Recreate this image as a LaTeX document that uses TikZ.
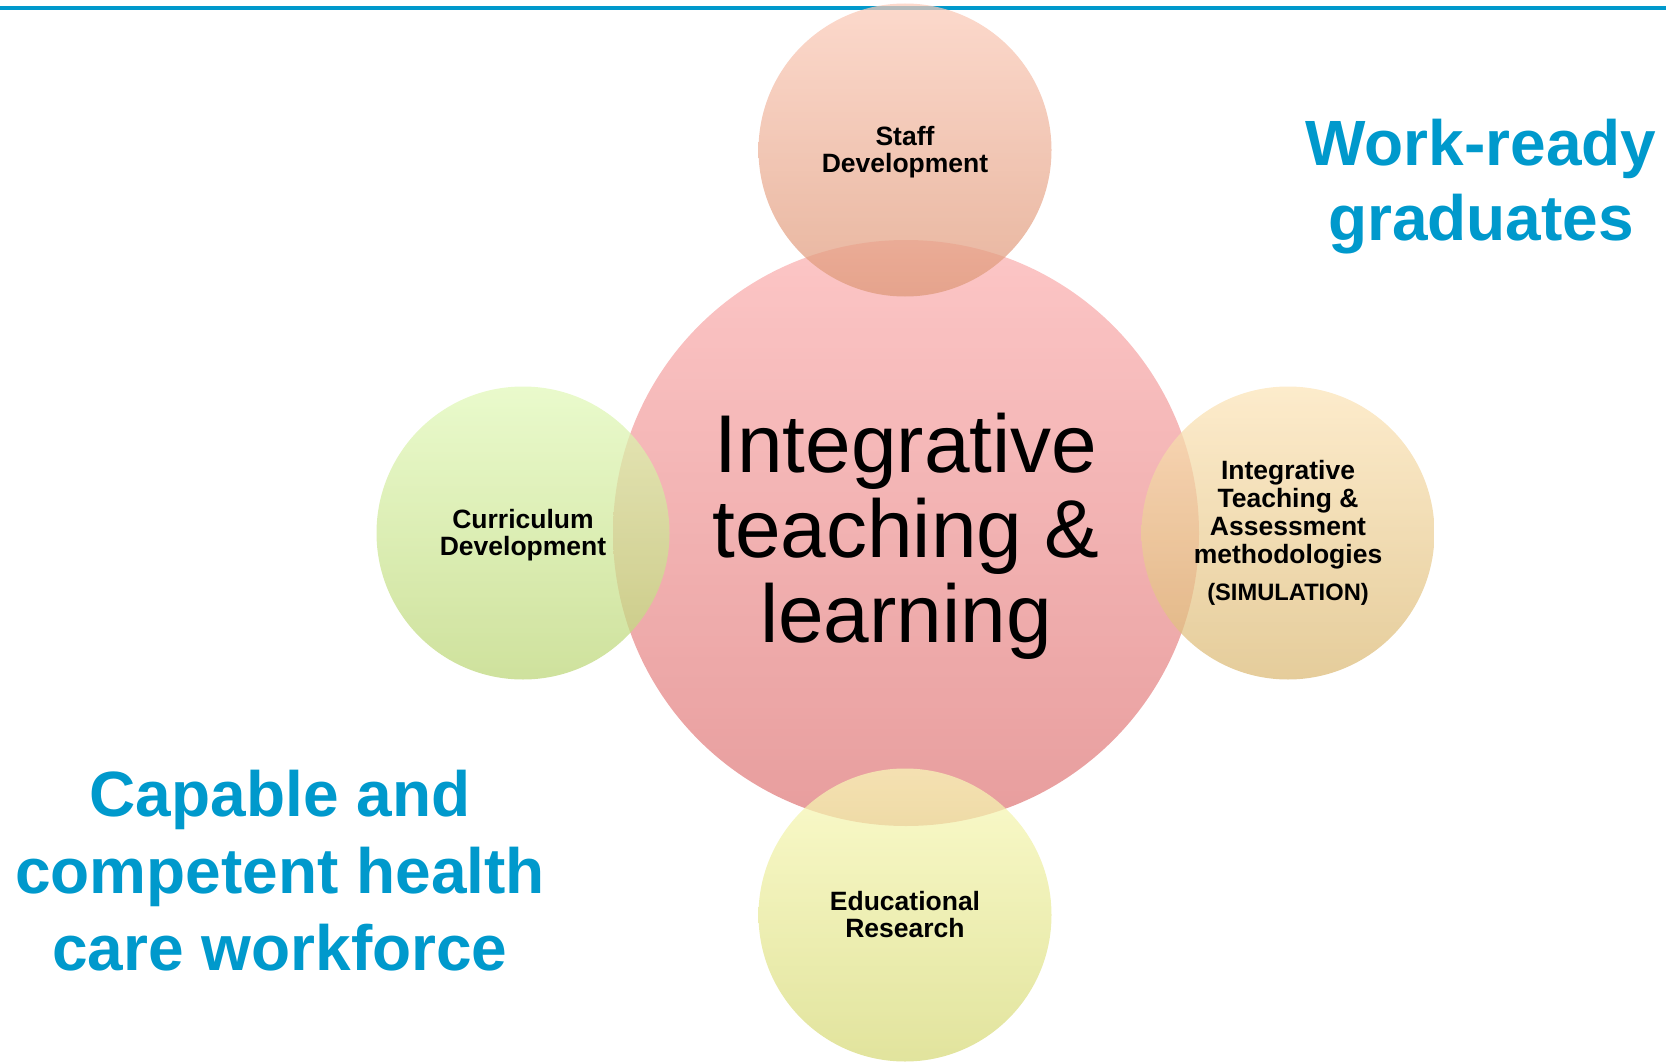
\documentclass[tikz,border=0pt]{standalone}
\usepackage{fontspec}
\setmainfont{Liberation Sans}
\usepackage{tikz}
\definecolor{ItlBlue}{RGB}{0,153,204}
\definecolor{MidTop}{RGB}{251,176,176}
\definecolor{MidBot}{RGB}{222,119,119}
\definecolor{StaffTop}{RGB}{251,202,184}
\definecolor{StaffBot}{RGB}{222,152,120}
\definecolor{CurTop}{RGB}{225,248,184}
\definecolor{CurBot}{RGB}{188,214,119}
\definecolor{MethTop}{RGB}{252,228,184}
\definecolor{MethBot}{RGB}{219,185,116}
\definecolor{ResTop}{RGB}{249,249,184}
\definecolor{ResBot}{RGB}{214,217,119}
\newcommand{\ItlSmall}{\bfseries\fontsize{26.5}{27}\selectfont}
\newcommand{\ItlGoal}{\bfseries\fontsize{64}{75}\selectfont}
\tikzset{
	bubble/.style={circle, inner sep=0pt, minimum size=293pt, fill opacity=0.72, text opacity=1, align=center, font=\ItlSmall},
	goal/.style={text=ItlBlue, align=center, font=\ItlGoal}
}

\begin{document}
\begin{tikzpicture}[x=1pt,y=-1pt]
		\useasboundingbox (0,0) rectangle (1666,1062);
		\draw[ItlBlue, line width=3.5pt] (0,8) -- (1666,8);
		\node[bubble, minimum size=586pt, top color=MidTop, bottom color=MidBot, font=\fontsize{82}{85}\selectfont, text depth=10pt] (itl) at (906,533) {Integrative\\teaching \&\\learning};
		\node[bubble, top color=StaffTop, bottom color=StaffBot, text depth=1.5pt] (staff) at (905,150) {Staff\\Development};
		\node[bubble, top color=CurTop, bottom color=CurBot, text depth=1.5pt] (curric) at (523,533) {Curriculum\\Development};
		\node[bubble, top color=MethTop, bottom color=MethBot, font=\bfseries\fontsize{26.5}{28}\selectfont] (meth) at (1288,533) {Integrative\\Teaching \&\\Assessment\\methodologies\\[9pt]{\fontsize{23.7}{24}\selectfont (SIMULATION)}};
		\node[bubble, top color=ResTop, bottom color=ResBot] (research) at (905,915) {Educational\\Research};
		% Подписи целей
		\node[goal] (workready) at (1481,187) {Work-ready\\graduates};
		\node[goal, font=\bfseries\fontsize{64}{77}\selectfont] (workforce) at (280,871) {Capable and\\competent health\\care workforce};
\end{tikzpicture}
\end{document}
